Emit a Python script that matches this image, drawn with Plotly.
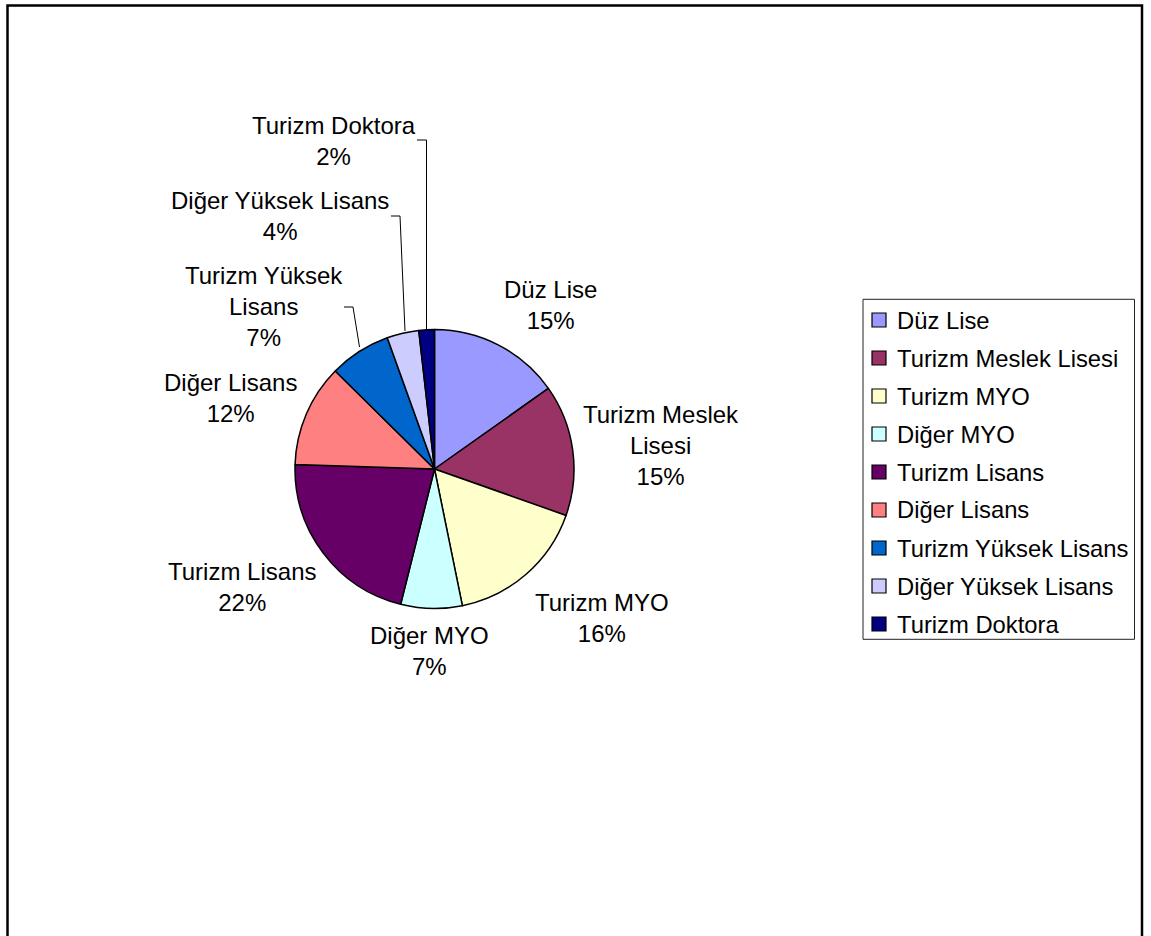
import plotly.graph_objects as go

# Education level shares
categories = [
    "Düz Lise", "Turizm Meslek Lisesi", "Turizm MYO", "Diğer MYO",
    "Turizm Lisans", "Diğer Lisans", "Turizm Yüksek Lisans",
    "Diğer Yüksek Lisans", "Turizm Doktora",
]
values = [15.2, 15.2, 16.4, 7.1, 21.6, 11.9, 7.1, 3.7, 1.8]
colors = [
    "#9999FF", "#993366", "#FFFFCC", "#CCFFFF", "#660066",
    "#FF8080", "#0066CC", "#CCCCFF", "#000080",
]
# wrapped label text for the slice captions
label_lines = [
    "Düz Lise", "Turizm Meslek<br>Lisesi", "Turizm MYO", "Diğer MYO",
    "Turizm Lisans", "Diğer Lisans", "Turizm Yüksek<br>Lisans",
    "Diğer Yüksek Lisans", "Turizm Doktora",
]

W, H = 1151, 936
FONT = "Liberation Sans, Arial, sans-serif"
FS = 24


def px(x):
    return x / W


def py(y):
    return 1 - y / H


# pie geometry (pixels)
cx, cy, r = 434.5, 469.0, 139.5

# caption centres (pixels)
label_pos = [
    (550, 305), (661, 445), (602, 618), (430, 651), (242, 587),
    (231, 398), (264, 307), (280, 216), (334, 141),
]

total = sum(values)
pcts = [round(100 * v / total) for v in values]

fig = go.Figure(
    go.Pie(
        labels=categories,
        values=values,
        sort=False,
        direction="clockwise",
        rotation=0,
        marker=dict(colors=colors, line=dict(color="black", width=1.5)),
        textinfo="none",
        hoverinfo="label+percent",
        showlegend=False,
        domain=dict(x=[px(cx - r), px(cx + r)], y=[py(cy + r), py(cy - r)]),
    )
)

annotations = []
for txt, p, (lx, ly) in zip(label_lines, pcts, label_pos):
    annotations.append(
        dict(
            x=px(lx), y=py(ly), xref="paper", yref="paper",
            text=f"{txt}<br>{p}%", showarrow=False,
            xanchor="center", yanchor="middle", align="center",
            font=dict(family=FONT, size=FS, color="black"),
        )
    )

# leader lines for the small slices
leaders = [
    [(417, 140), (426.5, 140), (426.5, 330)],
    [(391, 216), (400, 216), (405, 331)],
    [(344, 307), (353, 307), (359.5, 347)],
]
shapes = []
for pts in leaders:
    path = "M " + " L ".join(f"{px(x)},{py(y)}" for x, y in pts)
    shapes.append(
        dict(type="path", path=path, xref="paper", yref="paper",
             line=dict(color="black", width=1))
    )

# legend box with colour swatches
leg_x0, leg_x1, leg_y0, leg_y1 = 863, 1134.5, 299.3, 639.3
row0, row_step, sw = 320.0, 38.0, 14.0
sw_x0, text_x = 872.0, 895.0
shapes.append(
    dict(type="rect", xref="paper", yref="paper",
         x0=px(leg_x0), x1=px(leg_x1), y0=py(leg_y1), y1=py(leg_y0),
         line=dict(color="#222222", width=1), fillcolor="white", layer="below")
)
for i, (name, col) in enumerate(zip(categories, colors)):
    yc = row0 + i * row_step
    shapes.append(
        dict(type="rect", xref="paper", yref="paper",
             x0=px(sw_x0), x1=px(sw_x0 + sw),
             y0=py(yc + sw / 2), y1=py(yc - sw / 2),
             line=dict(color="black", width=1.2), fillcolor=col)
    )
    annotations.append(
        dict(x=px(text_x), y=py(yc), xref="paper", yref="paper",
             text=name, showarrow=False, xanchor="left", yanchor="middle",
             font=dict(family=FONT, size=23.8, color="black"))
    )

# chart frame
shapes.append(
    dict(type="rect", xref="paper", yref="paper",
         x0=px(7.5), x1=px(1142), y0=py(960), y1=py(5.5),
         line=dict(color="black", width=2.5), fillcolor="rgba(0,0,0,0)")
)

fig.update_layout(
    width=W, height=H,
    margin=dict(l=0, r=0, t=0, b=0),
    paper_bgcolor="white", plot_bgcolor="white",
    font=dict(family=FONT, size=FS, color="black"),
    showlegend=False,
    annotations=annotations,
    shapes=shapes,
)

fig.write_html("out.html")
